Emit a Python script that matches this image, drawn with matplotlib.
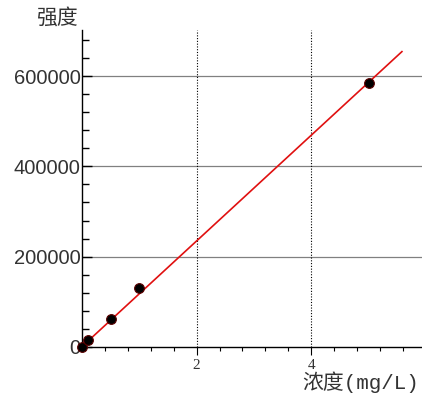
import matplotlib
matplotlib.use("Agg")
import matplotlib.pyplot as plt
from matplotlib.ticker import MultipleLocator

plt.rcParams['font.family'] = ['Noto Sans CJK SC', 'DejaVu Sans']

# 标准曲线数据
conc = [0, 0.1, 0.5, 1.0, 5.0]
intensity = [0, 15000, 62000, 130000, 585000]
fit_slope = 117200
fit_intercept = 300
fit_range = [0, 5.58]

fig = plt.figure(figsize=(4.22, 4.01), dpi=100)
ax = fig.add_axes([0.194, 0.135, 0.806, 0.79])

ax.set_xlim(0, 5.93)
ax.set_ylim(0, 702000)

# 网格：水平实线，竖直虚线
for yv in [200000, 400000, 600000]:
    ax.axhline(yv, color='#808080', lw=0.9, zorder=1)
for xv in [2, 4]:
    ax.axvline(xv, color='black', lw=0.8, ls=(0, (1, 1.5)), zorder=1)

fit_y = [fit_slope * x + fit_intercept for x in fit_range]
ax.plot(fit_range, fit_y, color='#e01010', lw=1.2, zorder=3)
ax.plot(conc, intensity, 'o', color='black', markersize=7,
        markeredgecolor='#5a0000', markeredgewidth=0.8, zorder=4, clip_on=False)

for s in ['top', 'right']:
    ax.spines[s].set_visible(False)
ax.spines['left'].set_linewidth(1.0)
ax.spines['bottom'].set_linewidth(1.0)

ax.set_yticks([0, 200000, 400000, 600000])
ax.yaxis.set_minor_locator(MultipleLocator(40000))
ax.set_xticks([2, 4])
ax.xaxis.set_minor_locator(MultipleLocator(0.4))
ax.tick_params(axis='y', which='major', direction='in', length=7, width=1, pad=1)
ax.tick_params(axis='y', which='minor', direction='in', length=5, width=1)
ax.tick_params(axis='x', which='major', direction='out', length=6, width=0.8, pad=3)
ax.tick_params(axis='x', which='minor', direction='out', length=3, width=0.8)
for lab in ax.get_yticklabels():
    lab.set_fontfamily('Liberation Sans')
    lab.set_fontsize(14.5)
    lab.set_color('#333333')
for lab in ax.get_xticklabels():
    lab.set_fontfamily('Liberation Serif')
    lab.set_fontsize(11)
    lab.set_color('#333333')

fig.text(0.085, 0.955, '强度', fontsize=15, color='#333333', va='center')
fig.text(0.716, 0.047, '浓度(mg/L)', fontsize=15, color='#333333', va='center',
         family=['Liberation Mono', 'Noto Sans CJK SC'])

fig.savefig('out.png', dpi=100)
